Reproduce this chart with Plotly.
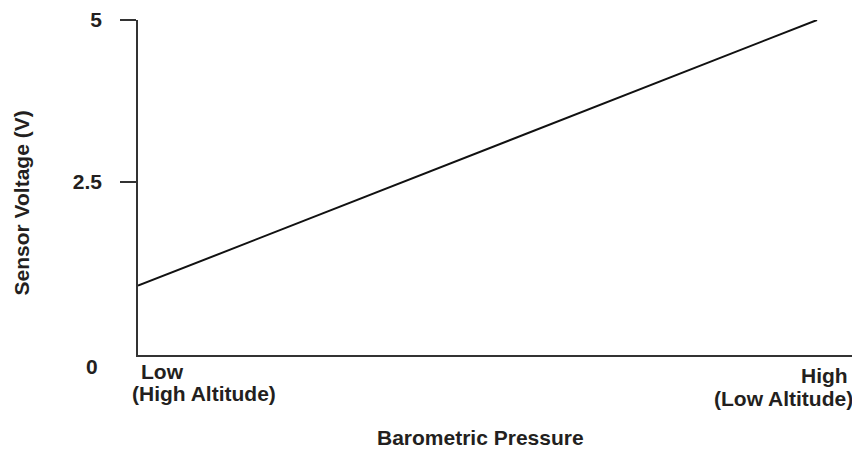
import plotly.graph_objects as go

# Data
pressure = [0, 1]               # Low -> High barometric pressure (normalized)
voltage = [0.9, 5.0]            # Sensor voltage (V)
y_tick_vals = [2.5, 5]
y_tick_text = ["2.5", "5"]
x_low_label = ["Low", "(High Altitude)"]
x_high_label = ["High", "(Low Altitude)"]
x_title = "Barometric Pressure"
y_title = "Sensor Voltage (V)"

FONT = "Liberation Sans, Arial, sans-serif"
TXT = "#231f20"
FS = 21

# page has an 8px body margin -> figure is 852x444, placed at (8, 8)
W, H = 852, 444
L, T, B = 130, 12, 97

fig = go.Figure()
fig.add_trace(go.Scatter(
    x=pressure, y=voltage, mode="lines",
    line=dict(color="#111111", width=2),
    hoverinfo="skip", showlegend=False,
))

fig.update_layout(
    width=W, height=H,
    margin=dict(l=L, r=0, t=T, b=B),
    paper_bgcolor="white", plot_bgcolor="white",
    font=dict(family=FONT, color=TXT, size=FS),
    showlegend=False,
)
fig.update_xaxes(
    range=[0, 1.0633], showgrid=False, zeroline=False,
    showline=True, linecolor="#333333", linewidth=1.5,
    showticklabels=False, ticks="", fixedrange=True,
)
fig.update_yaxes(
    range=[-0.17, 5], showgrid=False, zeroline=False,
    showline=True, linecolor="#333333", linewidth=1.5,
    tickmode="array", tickvals=y_tick_vals, ticktext=y_tick_text,
    ticks="outside", ticklen=16, tickcolor="#333333", tickwidth=1.5,
    ticklabelstandoff=14,
    tickfont=dict(family=FONT, size=FS, color=TXT, weight="bold"),
    fixedrange=True,
)

bold = dict(family=FONT, size=FS, color=TXT, weight="bold")

# "0" label (below the axis corner)
fig.add_annotation(x=0, y=0, xref="x", yref="y", text="0", showarrow=False,
                   xanchor="right", yanchor="middle", xshift=-38, yshift=-23, font=bold)

# x-axis category labels
fig.add_annotation(x=pressure[0], y=0, xref="x", yref="paper", text=x_low_label[0],
                   showarrow=False, xanchor="left", yanchor="top", xshift=1, yshift=-3, font=bold)
fig.add_annotation(x=pressure[0], y=0, xref="x", yref="paper", text=x_low_label[1],
                   showarrow=False, xanchor="left", yanchor="top", xshift=-8, yshift=-25, font=bold)
fig.add_annotation(x=pressure[1], y=0, xref="x", yref="paper", text=x_high_label[0],
                   showarrow=False, xanchor="right", yanchor="top", xshift=33, yshift=-7, font=bold)
fig.add_annotation(x=pressure[1], y=0, xref="x", yref="paper", text=x_high_label[1],
                   showarrow=False, xanchor="right", yanchor="top", xshift=38, yshift=-30, font=bold)

# axis titles
plot_h = H - T - B
fig.add_annotation(x=(480 - 138) / 679, y=-(437 - 355) / plot_h, xref="x", yref="paper",
                   text=x_title, showarrow=False, xanchor="center", yanchor="middle", font=bold)
fig.add_annotation(x=0, y=0.5, xref="paper", yref="paper", text=y_title, showarrow=False,
                   textangle=-90, xanchor="center", yanchor="middle",
                   xshift=-117, yshift=-16, font=bold)

fig.write_html("out.html")
